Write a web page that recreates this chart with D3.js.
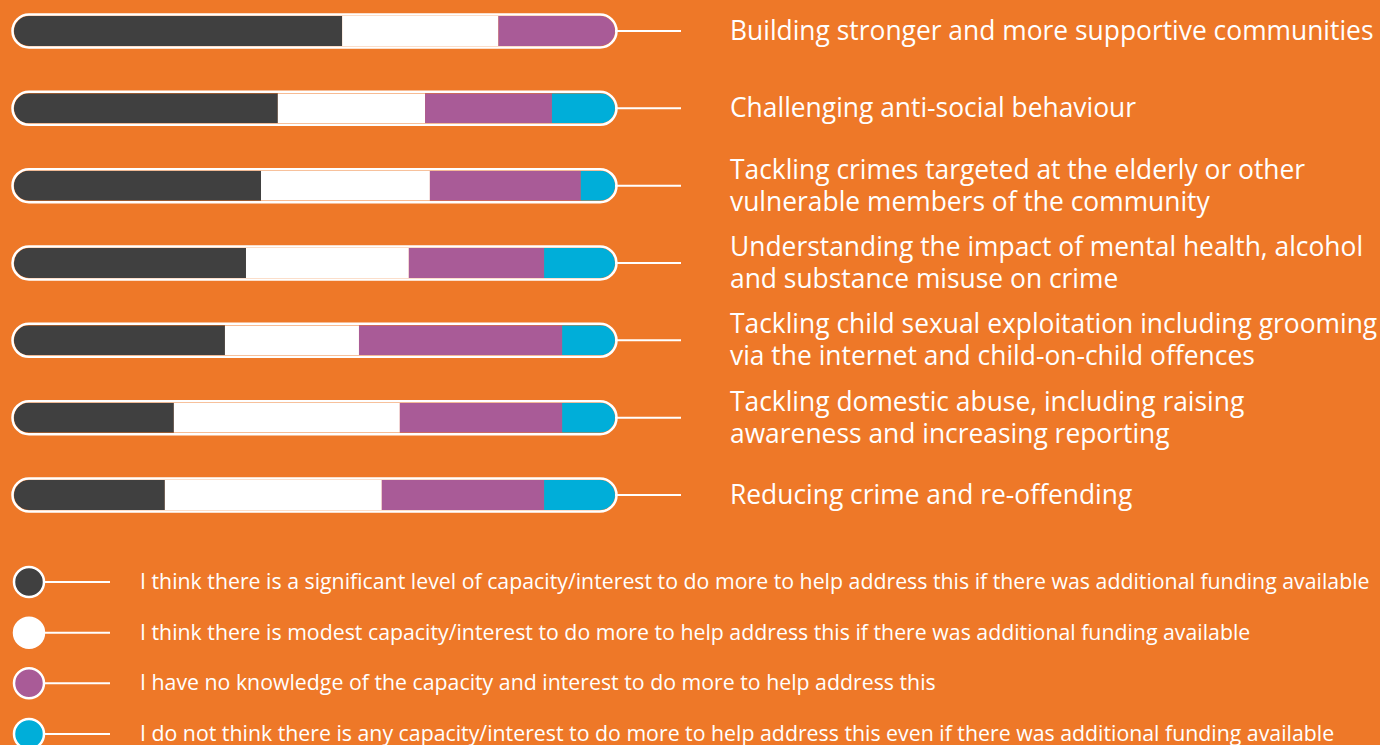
<!DOCTYPE html>
<html>
<head>
<meta charset="utf-8">
<script src="https://cdn.jsdelivr.net/npm/d3@7"></script>
<style>
  html, body { margin: 0; padding: 0; background: #EE7828; }
  svg { display: block; }
  text { font-family: "Open Sans", sans-serif; fill: #fff; }
</style>
</head>
<body>
<div id="chart"></div>
<script>
// survey answers per topic, percent of respondents
var topics = [
  ["Building stronger and more supportive communities"],
  ["Challenging anti-social behaviour"],
  ["Tackling crimes targeted at the elderly or other", "vulnerable members of the community"],
  ["Understanding the impact of mental health, alcohol", "and substance misuse on crime"],
  ["Tackling child sexual exploitation including grooming", "via the internet and child-on-child offences"],
  ["Tackling domestic abuse, including raising", "awareness and increasing reporting"],
  ["Reducing crime and re-offending"]
];
var significant = [54.6, 43.9, 41.1, 38.6, 35.1, 26.6, 25.1];
var modest      = [26.0, 24.5, 28.1, 27.1, 22.3, 37.6, 36.1];
var noKnowledge = [19.4, 21.1, 25.1, 22.5, 33.8, 27.0, 27.0];
var noCapacity  = [0.0, 10.5, 5.7, 11.8, 8.8, 8.8, 11.8];

var legendLabels = [
  "I think there is a significant level of capacity/interest to do more to help address this if there was additional funding available",
  "I think there is modest capacity/interest to do more to help address this if there was additional funding available",
  "I have no knowledge of the capacity and interest to do more to help address this",
  "I do not think there is any capacity/interest to do more to help address this even if there was additional funding available"
];
var colors = ["#404040", "#ffffff", "#A95B97", "#00AED9"];

var width = 1380, height = 745;
var svg = d3.select("#chart").append("svg")
  .attr("width", width).attr("height", height);

var x = d3.scaleLinear().domain([0, 100]).range([14, 615]);
var y = d3.scalePoint().domain(d3.range(topics.length)).range([31, 495]);
var barH = 30;

var rows = topics.map(function (t, i) {
  return { i: i, label: t, vals: [significant[i], modest[i], noKnowledge[i], noCapacity[i]] };
});

var defs = svg.append("defs");
rows.forEach(function (r) {
  defs.append("clipPath").attr("id", "clip" + r.i)
    .append("rect")
    .attr("x", x(0)).attr("y", y(r.i) - barH / 2)
    .attr("width", x(100) - x(0)).attr("height", barH)
    .attr("rx", barH / 2);
});

var row = svg.selectAll(".row").data(rows).enter()
  .append("g").attr("class", "row");

// connector line
row.append("line")
  .attr("x1", x(100)).attr("x2", 681)
  .attr("y1", function (d) { return y(d.i); })
  .attr("y2", function (d) { return y(d.i); })
  .attr("stroke", "#fff").attr("stroke-width", 2);

// stacked segments
row.append("g")
  .attr("clip-path", function (d) { return "url(#clip" + d.i + ")"; })
  .each(function (d) {
    var acc = 0;
    var segs = d.vals.map(function (v, k) {
      var s = { x0: acc, x1: acc + v, k: k };
      acc += v;
      return s;
    });
    d3.select(this).selectAll("rect").data(segs).enter().append("rect")
      .attr("x", function (s) { return x(s.x0); })
      .attr("width", function (s) { return Math.max(0, x(s.x1) - x(s.x0)); })
      .attr("y", y(d.i) - barH / 2)
      .attr("height", barH)
      .attr("fill", function (s) { return colors[s.k]; });
  });

// white outline
row.append("rect")
  .attr("x", x(0) - 1.5).attr("width", x(100) - x(0) + 3)
  .attr("y", function (d) { return y(d.i) - barH / 2 - 1.5; })
  .attr("height", barH + 3)
  .attr("rx", barH / 2 + 1.5)
  .attr("fill", "none").attr("stroke", "#fff").attr("stroke-width", 2.5);

// topic labels, one text per line
row.each(function (d) {
  var g = d3.select(this);
  var n = d.label.length;
  d.label.forEach(function (line, j) {
    g.append("text")
      .attr("x", 730)
      .attr("y", y(d.i) + 9 + (j - (n - 1) / 2) * 32)
      .attr("font-size", 26.4)
      .text(line);
  });
});

// legend
var ly = d3.scalePoint().domain(d3.range(legendLabels.length)).range([582, 734]);
var leg = svg.selectAll(".leg").data(legendLabels).enter()
  .append("g").attr("class", "leg");

leg.append("line")
  .attr("x1", 44).attr("x2", 110)
  .attr("y1", function (d, i) { return ly(i); })
  .attr("y2", function (d, i) { return ly(i); })
  .attr("stroke", "#fff").attr("stroke-width", 2);

leg.append("circle")
  .attr("cx", 29)
  .attr("cy", function (d, i) { return ly(i); })
  .attr("r", 15)
  .attr("fill", function (d, i) { return colors[i]; })
  .attr("stroke", "#fff").attr("stroke-width", 2.5);

leg.append("text")
  .attr("x", 140)
  .attr("y", function (d, i) { return ly(i) + 7; })
  .attr("font-size", 21.3)
  .text(function (d) { return d; });
</script>
</body>
</html>
